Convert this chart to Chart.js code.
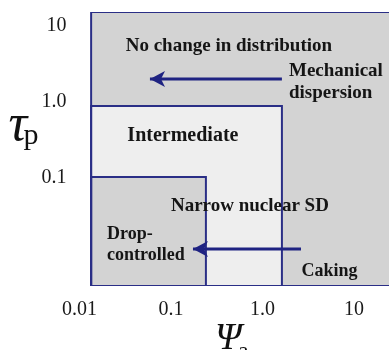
<!DOCTYPE html>
<html><head><meta charset="utf-8">
<script src="https://cdn.jsdelivr.net/npm/chart.js@4.4.0/dist/chart.umd.min.js"></script>
<style>html,body{margin:0;padding:0;background:#fff;overflow:hidden}canvas{display:block}</style>
</head><body>
<canvas id="c" width="389" height="350"></canvas>
<script>
// ---- axis ticks ----
const xTickValues = [0.01, 0.1, 1, 10];
const xTickLabels = ['0.01', '0.1', '1.0', '10'];
const yTickValues = [0.1, 1, 10];
const yTickLabels = ['0.1', '1.0', '10'];
const xRange = [0.01, 24.2];
const yRange = [0.00379, 15.3];

// ---- regions (Psi_a range, tau_p range) ----
const regionNames = ['No change in distribution', 'Intermediate', 'Drop-controlled'];
const regionXMin = [0.0134, 0.0134, 0.0134];
const regionXMax = [100, 1.633, 0.241];
const regionYMin = [0.00379, 0.00379, 0.00379];
const regionYMax = [15.3, 0.886, 0.103];

// ---- arrows (tail -> head) ----
const arrowTailX = [1.633, 2.64];
const arrowHeadX = [0.0589, 0.174];
const arrowY = [2.01, 0.01164];

// ---- text labels ----
const labelTexts = [['No change in distribution'], ['Mechanical', 'dispersion'], ['Intermediate'], ['Narrow nuclear SD'], ['Drop-', 'controlled'], ['Caking']];
const labelX = [0.43, 1.95, 0.135, 0.730, 0.0200, 5.40];
const labelY = [5.37, 1.81, 0.357, 0.0428, 0.01334, 0.00589];

const NAVY = '#2a2e86';
const fills = ['#d3d3d3', '#eeeeee', '#d3d3d3'];

// arrow head image (apex at the image centre, pointing left)
const head = document.createElement('canvas');
head.width = 34; head.height = 20;
(function () {
  const g = head.getContext('2d');
  g.fillStyle = '#1f2382';
  g.beginPath();
  g.moveTo(17, 10);
  g.lineTo(32, 2);
  g.lineTo(28, 10);
  g.lineTo(32, 18);
  g.closePath();
  g.fill();
})();

const datasets = [];
regionNames.forEach((n, i) => {
  datasets.push({
    label: n + ' fill',
    data: [{x: regionXMin[i], y: regionYMax[i]}, {x: regionXMax[i], y: regionYMax[i]}],
    showLine: true, borderWidth: 0, pointRadius: 0,
    backgroundColor: fills[i], borderColor: 'rgba(0,0,0,0)',
    fill: {value: regionYMin[i]}, order: 20 - i
  });
  datasets.push({
    label: n + ' border',
    data: [
      {x: regionXMin[i], y: regionYMin[i]}, {x: regionXMin[i], y: regionYMax[i]},
      {x: regionXMax[i], y: regionYMax[i]}, {x: regionXMax[i], y: regionYMin[i]},
      {x: regionXMin[i], y: regionYMin[i]}
    ],
    showLine: true, borderWidth: 2, pointRadius: 0, borderColor: NAVY,
    fill: false, order: 5
  });
});
arrowTailX.forEach((t, i) => {
  datasets.push({
    label: 'arrow ' + i,
    data: [{x: arrowHeadX[i], y: arrowY[i]}, {x: t, y: arrowY[i]}],
    showLine: true, borderWidth: 3, borderColor: '#1f2382',
    pointStyle: head, pointRadius: [6, 0], fill: false, order: 1
  });
});

const labelStyle = [
  {size: 19, align: 'center', lh: 22},
  {size: 19, align: 'left', lh: 22},
  {size: 20, align: 'center', lh: 22},
  {size: 19, align: 'center', lh: 22},
  {size: 18, align: 'left', lh: 21},
  {size: 18, align: 'center', lh: 21}
];

const textPlugin = {
  id: 'texts',
  afterLayout(chart) {
    // let the plot area run to the right edge of the canvas (box is cut off there)
    const a = chart.chartArea, x = chart.scales.x;
    a.right = chart.width; a.width = a.right - a.left;
    x.right = a.right; x.width = a.width;
    x.configure();
  },
  afterDatasetsDraw(chart) {
    const ctx = chart.ctx, xs = chart.scales.x, ys = chart.scales.y;
    ctx.save();
    ctx.fillStyle = '#151515';
    ctx.textBaseline = 'middle';
    labelTexts.forEach((lines, i) => {
      const st = labelStyle[i];
      ctx.font = 'bold ' + st.size + 'px "Liberation Serif", "Times New Roman", serif';
      ctx.textAlign = st.align;
      const px = xs.getPixelForValue(labelX[i]);
      const py = ys.getPixelForValue(labelY[i]);
      const y0 = py - (lines.length - 1) * st.lh / 2;
      lines.forEach((l, k) => ctx.fillText(l, px, y0 + k * st.lh));
    });
    // axis titles
    const a = chart.chartArea;
    ctx.fillStyle = '#111';
    ctx.textAlign = 'left';
    ctx.textBaseline = 'alphabetic';
    ctx.font = 'italic 52px "Liberation Serif", serif';
    ctx.fillText('\u03C4', a.left - 71, 140);
    ctx.font = '30px "Liberation Serif", serif';
    ctx.fillText('p', a.left - 56, 144);
    ctx.font = 'italic 38px "Liberation Serif", serif';
    ctx.fillText('\u03A8', 215, 349);
    ctx.font = '24px "Liberation Serif", serif';
    ctx.fillText('a', 238, 358);
    ctx.restore();
  }
};

const noPad = s => { s.paddingTop = 0; s.paddingBottom = 0; s.paddingLeft = 0; s.paddingRight = 0; };

new Chart(document.getElementById('c'), {
  type: 'scatter',
  data: {datasets},
  options: {
    responsive: false, animation: false, devicePixelRatio: 1,
    layout: {padding: {top: 12, right: 0, bottom: 0, left: 0}},
    plugins: {legend: {display: false}, tooltip: {enabled: false}},
    scales: {
      x: {
        type: 'logarithmic', min: xRange[0], max: xRange[1],
        grid: {display: false, drawTicks: false}, border: {display: false},
        afterBuildTicks: s => { s.ticks = xTickValues.map(v => ({value: v})); },
        afterFit: s => { s.height = 64; noPad(s); },
        ticks: {
          autoSkip: false, maxRotation: 0, padding: 12, color: '#1a1a1a',
          font: {family: '"Liberation Serif", serif', size: 20},
          callback: (v, i) => xTickLabels[i]
        }
      },
      y: {
        type: 'logarithmic', min: yRange[0], max: yRange[1],
        grid: {display: false, drawTicks: false}, border: {display: false},
        afterBuildTicks: s => { s.ticks = yTickValues.map(v => ({value: v})); },
        afterFit: s => { s.width = 79.5; noPad(s); },
        ticks: {
          autoSkip: false, padding: 13, color: '#1a1a1a',
          font: {family: '"Liberation Serif", serif', size: 20},
          callback: (v, i) => yTickLabels[i]
        }
      }
    }
  },
  plugins: [textPlugin]
});
</script>
</body></html>
